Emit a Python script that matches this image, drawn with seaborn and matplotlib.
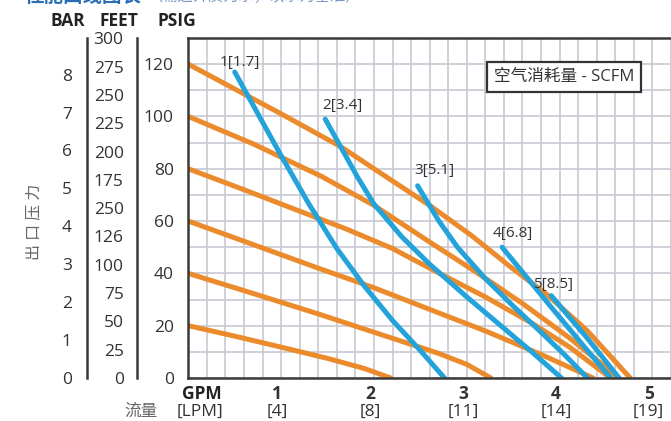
import numpy as np
import pandas as pd
import matplotlib
matplotlib.use('Agg')
import matplotlib.pyplot as plt
import seaborn as sns

# pump performance curves: outlet pressure vs flow
# orange = inlet air pressure (psig), blue = air consumption (scfm)
air_psi = [120, 100, 80, 60, 40, 20]
orange_gpm = [
    [0, 1.0, 1.64, 2.15, 2.6, 3.05, 3.47, 3.86, 4.3, 4.76],
    [0, 0.7, 1.44, 2.0, 2.6, 3.1, 3.6, 4.1, 4.64],
    [0, 0.6, 1.14, 1.7, 2.2, 2.69, 3.2, 3.7, 4.1, 4.55],
    [0, 0.7, 1.4, 2.0, 2.69, 3.2, 3.8, 4.36],
    [0, 0.7, 1.4, 2.0, 2.69, 3.0, 3.26],
    [0, 0.5, 1.0, 1.5, 1.9, 2.18],
]
orange_psi = [
    [120, 101, 88.5, 76.5, 66, 54.5, 42.5, 32, 18, 0],
    [100, 89.5, 77, 66, 52, 40.5, 28.5, 15.5, 0],
    [80, 72, 64.6, 57, 49.5, 40.3, 31, 21, 12, 0],
    [60, 51, 42, 34.5, 25, 18, 9, 0],
    [40, 32.3, 24.5, 17.5, 9.5, 5.2, 0],
    [20, 16, 11.8, 7.5, 3.6, 0],
]

scfm_labels = ['1[1.7]', '2[3.4]', '3[5.1]', '4[6.8]', '5[8.5]']
label_gpm = [0.55, 1.66, 2.65, 3.50, 3.93]
label_psi = [120.7, 104.0, 79.5, 55.3, 35.9]
blue_gpm = [
    [0.5, 0.75, 1.0, 1.3, 1.6, 1.9, 2.2, 2.5, 2.76],
    [1.475, 1.64, 1.82, 2.0, 2.3, 2.6, 3.0, 3.4, 3.7, 4.02],
    [2.47, 2.7, 2.9, 3.2, 3.5, 3.8, 4.05, 4.3],
    [3.38, 3.6, 3.9, 4.1, 4.3, 4.55],
    [3.91, 4.1, 4.28, 4.45, 4.64],
]
blue_psi = [
    [117, 101, 85, 66.5, 49.5, 35, 22, 10.5, 0],
    [99, 88.5, 77, 66.5, 54, 43.5, 31, 19, 10, 0],
    [73.5, 60, 50, 38, 27.5, 17.5, 9, 0],
    [50, 40.5, 27.5, 19, 10.5, 0],
    [31.5, 23.5, 16, 8.5, 0],
]

gpm_ticks = [1, 2, 3, 4, 5]
lpm_ticks = ['[4]', '[8]', '[11]', '[14]', '[19]']
bar_ticks = [0, 1, 2, 3, 4, 5, 6, 7, 8]
feet_ticks = [0, 25, 50, 75, 100, 125, 150, 175, 200, 225, 250, 275, 300]
feet_labels = ['0', '25', '50', '75', '100', '126', '250', '175', '200', '225', '250', '275', '300']
psig_ticks = [0, 20, 40, 60, 80, 100, 120]

orange = '#EB8B2C'
blue = '#23A3DA'
dark = '#333333'

rows = []
for p, xs, ys in zip(air_psi, orange_gpm, orange_psi):
    for x, y in zip(xs, ys):
        rows.append(('o%d' % p, x, y))
df_o = pd.DataFrame(rows, columns=['curve', 'gpm', 'psi'])
rows = []
for name, xs, ys in zip(scfm_labels, blue_gpm, blue_psi):
    for x, y in zip(xs, ys):
        rows.append((name, x, y))
df_b = pd.DataFrame(rows, columns=['curve', 'gpm', 'psi'])

sns.set_style('white')
plt.rcParams['font.family'] = ['Open Sans', 'Noto Sans CJK SC', 'DejaVu Sans']

W, H = 671, 421
fig = plt.figure(figsize=(W / 100, H / 100), dpi=100)
ax = fig.add_axes([188.3 / W, 43 / H, 1 - 188.3 / W, 340 / H])

sns.lineplot(data=df_o, x='gpm', y='psi', units='curve', estimator=None, sort=False,
             color=orange, lw=3.6, solid_capstyle='round', solid_joinstyle='round', ax=ax)
sns.lineplot(data=df_b, x='gpm', y='psi', units='curve', estimator=None, sort=False,
             color=blue, lw=3.6, solid_capstyle='round', solid_joinstyle='round', ax=ax)

ax.set_xlim(0, (W - 188.3) / 93.8)
ax.set_ylim(0, 130)
ax.set_xticks(np.arange(0, 5.21, 0.2))
ax.set_xticklabels([])
yt = np.arange(0, 131, 10)
ax.set_yticks(yt)
ax.set_yticklabels([str(v) if v in psig_ticks else '' for v in yt])
ax.tick_params(axis='both', length=0, labelsize=12.5, labelcolor=dark)
ax.tick_params(axis='y', pad=10.5)
ax.grid(True, color='#c8c8d2', lw=1.2)
ax.set_axisbelow(True)
ax.set_xlabel('')
ax.set_ylabel('')
for s in ['left', 'top', 'bottom']:
    ax.spines[s].set_color('#3a3a3a')
    ax.spines[s].set_linewidth(1.8)
ax.spines['right'].set_visible(False)

for name, x, y in zip(scfm_labels, label_gpm, label_psi):
    ax.text(x, y, name, ha='center', va='center', fontsize=11, color=dark)

ax.text(4.048, 114.9, '空气消耗量 - SCFM', ha='center', va='center', fontsize=12, color=dark,
        bbox=dict(boxstyle='square,pad=0.42', fc='white', ec='#333333', lw=1.6))

xt = ax.get_xaxis_transform()
for g, l in zip(gpm_ticks, lpm_ticks):
    ax.text(g - 0.04, -0.047, str(g), transform=xt, ha='center', va='center',
            fontsize=12.5, fontweight='bold', color=dark)
    ax.text(g - 0.04, -0.1, l, transform=xt, ha='center', va='center',
            fontsize=12.5, color=dark)

# bar and feet scales on the left
ax_bar = fig.add_axes([87 / W, 43 / H, 0.001, 340 / H])
ax_bar.set_ylim(0, 130 / 14.5)
ax_bar.set_yticks(bar_ticks)
ax_ft = fig.add_axes([137 / W, 43 / H, 0.001, 340 / H])
ax_ft.set_ylim(0, 130 * 2.31)
ax_ft.set_yticks(feet_ticks)
ax_ft.set_yticklabels(feet_labels)
for a, tl, pd_ in [(ax_bar, 8, 3), (ax_ft, 8.6, 1)]:
    a.patch.set_alpha(0)
    a.set_xticks([])
    for s in ['right', 'top', 'bottom']:
        a.spines[s].set_visible(False)
    a.spines['left'].set_color('#3a3a3a')
    a.spines['left'].set_linewidth(1.8)
    a.tick_params(axis='y', direction='out', length=tl, width=1.6, color='#3a3a3a',
                  pad=pd_, labelsize=12.5, labelcolor=dark)

def px(x, y):
    return x / W, 1 - y / H

fig.text(*px(68, 20.5), 'BAR', ha='center', va='center', fontsize=12.5, fontweight='bold', color='#222222')
fig.text(*px(119, 20.5), 'FEET', ha='center', va='center', fontsize=12.5, fontweight='bold', color='#222222')
fig.text(*px(176.5, 20.5), 'PSIG', ha='center', va='center', fontsize=12.5, fontweight='bold', color='#222222')
fig.text(*px(34, 222), '出 口 压 力', rotation=90, ha='center', va='center', fontsize=11.5, color='#666666')
fig.text(*px(141, 412), '流量', ha='center', va='center', fontsize=12, color='#666666')
fig.text(*px(200, 412), '[LPM]', ha='center', va='center', fontsize=12.5, color=dark)
fig.text(*px(202, 394), 'GPM', ha='center', va='center', fontsize=12.5, fontweight='bold', color='#222222')
fig.text(*px(25, -3), '性能曲线图表', ha='left', va='center', fontsize=14, fontweight='bold', color='#2a6fb5')
fig.text(*px(147, -3), '（输送介质为水，以水为基准）', ha='left', va='center', fontsize=11, color='#7a98c4')

fig.savefig('out.png', dpi=100)
